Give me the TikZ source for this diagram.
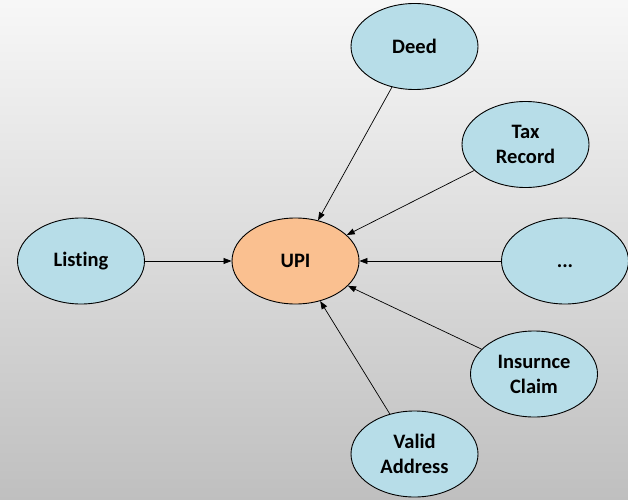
\documentclass[tikz,border=0pt]{standalone}
\usepackage{fontspec}
\setmainfont{Carlito}[Ligatures={NoCommon}]
\usetikzlibrary{shapes.geometric,arrows.meta}
\definecolor{nodeblue}{HTML}{B7DDE8}
\definecolor{nodeorange}{HTML}{FAC090}
\begin{document}
\begin{tikzpicture}[x=1pt,y=1pt,
  bubble/.style={ellipse,draw=black,line width=0.9pt,fill=nodeblue,minimum width=127pt,minimum height=86pt,inner sep=0pt,font=\fontsize{20.5}{25}\selectfont\bfseries,align=center},
  link/.style={line width=0.7pt,-{Triangle[length=8pt,width=6pt]}}]
\shade[top color=black!3, bottom color=black!25] (0,0) rectangle (628,499);
\useasboundingbox (0,0) rectangle (628,499);
\node[bubble] (deed) at (414.5,452.5) {Deed};
\node[bubble] (tax) at (525.5,354.5) {Tax\\Record};
\node[bubble] (listing) at (81,238) {Listing};
\node[bubble,fill=nodeorange] (upi) at (295.5,238) {UPI};
\node[bubble] (dots) at (565,238) {\vphantom{D}...};
\node[bubble] (ins) at (534,125) {Insurnce\\Claim};
\node[bubble] (valid) at (414.5,45) {Valid\\Address};
\draw[link] (deed) -- (upi);
\draw[link] (tax) -- (upi);
\draw[link] (listing) -- (upi);
\draw[link] (dots) -- (upi);
\draw[link] (ins) -- (upi);
\draw[link] (valid) -- (upi);
\end{tikzpicture}
\end{document}
